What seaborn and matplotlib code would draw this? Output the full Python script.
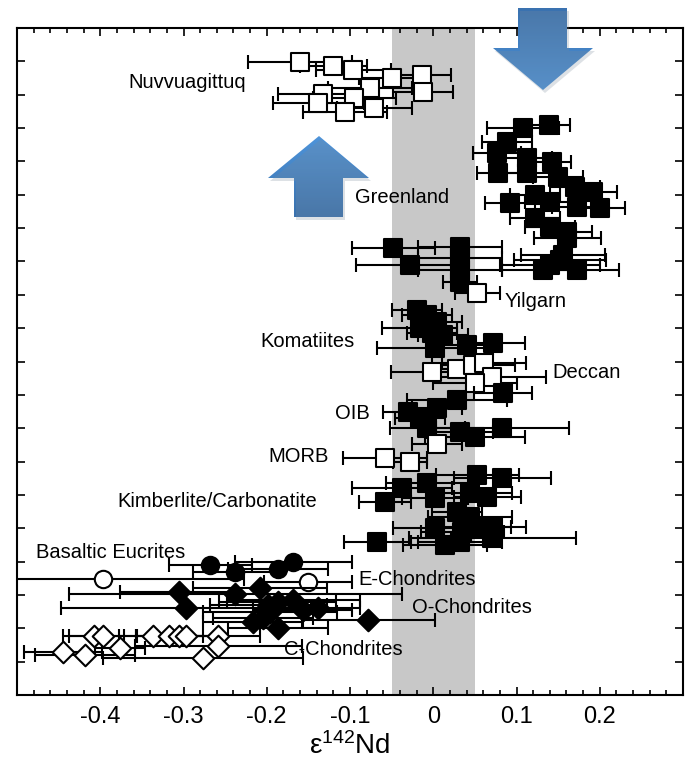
import numpy as np
import pandas as pd
import matplotlib
matplotlib.use("Agg")
import matplotlib.pyplot as plt
import seaborn as sns
from matplotlib.patches import Polygon
from matplotlib.colors import LinearSegmentedColormap
from matplotlib.ticker import FixedLocator, MultipleLocator, FuncFormatter

# ---- data (x = eps142Nd, y = arbitrary row position) ----
nuv_x = [-0.160, -0.120, -0.096, -0.076, -0.049, -0.014, -0.012, -0.132, -0.138, -0.095, -0.071, -0.106]
nuv_y = [18.98, 18.86, 18.74, 18.20, 18.50, 18.59, 18.08, 18.02, 17.75, 17.90, 17.60, 17.48]
nuv_err = [0.062, 0.040, 0.045, 0.050, 0.040, 0.035, 0.036, 0.054, 0.055, 0.050, 0.045, 0.050]

green_x = [0.108, 0.139, 0.089, 0.077, 0.113, 0.143, 0.078, 0.113, 0.150, 0.170,
           0.192, 0.092, 0.122, 0.140, 0.173, 0.200, 0.122, 0.140, 0.161, 0.161,
           0.156, 0.152, 0.140, 0.132, 0.173]
green_y = [17.00, 17.09, 16.58, 16.25, 16.10, 15.98, 15.65, 15.65, 15.53, 15.23,
           15.08, 14.75, 14.99, 14.78, 14.63, 14.60, 14.30, 14.03, 13.88, 13.70,
           13.19, 13.04, 12.89, 12.74, 12.74]
green_err = [0.043, 0.025, 0.030, 0.029, 0.030, 0.022, 0.026, 0.030, 0.030, 0.030,
             0.029, 0.030, 0.030, 0.030, 0.030, 0.030, 0.030, 0.030, 0.030, 0.040,
             0.050, 0.055, 0.060, 0.050, 0.050]

yil_black_x = [-0.048, -0.028, 0.032, 0.032, 0.032, 0.032]
yil_black_y = [13.40, 12.89, 13.43, 13.10, 12.74, 12.38]
yil_black_err = [0.050, 0.065, 0.050, 0.050, 0.050, 0.020]
yil_open_x = [0.053]
yil_open_y = [12.05]
yil_open_err = [0.027]

kom_x = [-0.019, -0.007, 0.005, -0.016, -0.001, 0.012, 0.002, 0.041, 0.072]
kom_y = [11.54, 11.39, 11.18, 11.00, 10.85, 10.79, 10.40, 10.49, 10.55]
kom_err = [0.030, 0.030, 0.030, 0.045, 0.030, 0.030, 0.070, 0.040, 0.038]

dec_x = [-0.001, 0.028, 0.048, 0.061, 0.071, 0.050]
dec_y = [9.69, 9.78, 9.90, 9.96, 9.54, 9.36]
dec_err = [0.050, 0.030, 0.050, 0.050, 0.065, 0.050]

oib_x = [0.084, 0.029, -0.030, -0.016, 0.005, -0.007, 0.032, 0.050, 0.083]
oib_y = [9.06, 8.85, 8.49, 8.31, 8.61, 8.01, 7.89, 7.74, 8.01]
oib_err = [0.035, 0.060, 0.030, 0.030, 0.030, 0.045, 0.040, 0.060, 0.080]

morb_x = [0.004, -0.058, -0.028]
morb_y = [7.53, 7.11, 6.99]
morb_err = [0.030, 0.050, 0.020]

kim_x = [0.053, 0.083, -0.007, -0.037, -0.058, 0.002, 0.044, 0.065, 0.029,
         0.044, 0.002, 0.035, 0.072, 0.071, 0.014, -0.067, 0.032, 0.053]
kim_y = [6.60, 6.51, 6.36, 6.21, 5.79, 5.91, 6.06, 5.94, 5.49,
         5.34, 5.01, 4.89, 5.04, 4.71, 4.50, 4.59, 4.59, 5.04]
kim_err = [0.050, 0.058, 0.050, 0.060, 0.031, 0.040, 0.050, 0.040, 0.030,
           0.050, 0.050, 0.050, 0.040, 0.100, 0.050, 0.040, 0.050, 0.040]

euc_x = [-0.268, -0.238, -0.187, -0.168]
euc_y = [3.90, 3.69, 3.78, 3.99]
euc_err = [0.050, 0.050, 0.060, 0.070]

ech_x = [-0.397, -0.150]
ech_y = [3.48, 3.39]
ech_err = [0.170, 0.053]

och_x = [-0.306, -0.238, -0.208, -0.297, -0.187, -0.168, -0.157, -0.138,
         -0.196, -0.204, -0.217, -0.186, -0.198, -0.078]
och_y = [3.09, 3.03, 3.21, 2.61, 2.79, 2.85, 2.55, 2.61,
         2.49, 2.31, 2.19, 2.01, 2.70, 2.25]
och_err = [0.070, 0.200, 0.080, 0.150, 0.070, 0.080, 0.060, 0.050,
           0.080, 0.060, 0.060, 0.060, 0.070, 0.080]

cch_x = [-0.408, -0.397, -0.337, -0.317, -0.306, -0.297, -0.258, -0.258,
         -0.445, -0.418, -0.376, -0.277]
cch_y = [1.77, 1.77, 1.77, 1.77, 1.77, 1.77, 1.77, 1.47,
         1.29, 1.20, 1.41, 1.11]
cch_err = [0.037, 0.040, 0.040, 0.040, 0.050, 0.040, 0.050, 0.100,
           0.047, 0.060, 0.030, 0.120]

labels = ["Nuvvuagittuq", "Greenland", "Yilgarn", "Komatiites", "Deccan", "OIB",
          "MORB", "Kimberlite/Carbonatite", "Basaltic Eucrites", "E-Chondrites",
          "O-Chondrites", "C-Chondrites"]
label_x = [-0.366, -0.094, 0.086, -0.208, 0.143, -0.118,
           -0.198, -0.379, -0.477, -0.090, -0.025, -0.179]
label_y = [18.20, 14.75, 11.63, 10.43, 9.51, 8.28,
           6.99, 5.64, 4.11, 3.30, 2.46, 1.20]

x_ticks = [-0.4, -0.3, -0.2, -0.1, 0.0, 0.1, 0.2]

# ---- style ----
sns.set_style("ticks")
plt.rcParams["font.family"] = ["Liberation Sans", "DejaVu Sans"]
plt.rcParams["axes.unicode_minus"] = False
plt.rcParams["mathtext.fontset"] = "custom"
plt.rcParams["mathtext.rm"] = "Liberation Sans"
plt.rcParams["text.color"] = "black"
plt.rcParams["axes.labelcolor"] = "black"

fig = plt.figure(figsize=(6.85, 7.68), dpi=100)
ax = fig.add_axes([17 / 685, 73 / 768, 666 / 685, 667 / 768])

ax.axvspan(-0.05, 0.05, color="#c8c8c8", lw=0, zorder=0)

for name, tx, ty in zip(labels, label_x, label_y):
    ax.text(tx, ty, name, fontsize=14.5, color="black", va="baseline", ha="left", zorder=1)

groups = [
    (nuv_x, nuv_y, nuv_err, "s", "white", 12.5),
    (green_x, green_y, green_err, "s", "black", 13),
    (yil_black_x, yil_black_y, yil_black_err, "s", "black", 13),
    (yil_open_x, yil_open_y, yil_open_err, "s", "white", 12.5),
    (kom_x, kom_y, kom_err, "s", "black", 13),
    (dec_x, dec_y, dec_err, "s", "white", 12.5),
    (oib_x, oib_y, oib_err, "s", "black", 13),
    (morb_x, morb_y, morb_err, "s", "white", 12.5),
    (kim_x, kim_y, kim_err, "s", "black", 13),
    (euc_x, euc_y, euc_err, "o", "black", 12.5),
    (ech_x, ech_y, ech_err, "o", "white", 12.5),
    (och_x, och_y, och_err, "D", "black", 11),
    (cch_x, cch_y, cch_err, "D", "white", 11),
]

for i, (gx, gy, ge, mk, face, ms) in enumerate(groups):
    df = pd.DataFrame({"x": gx, "y": gy, "err": ge})
    ax.errorbar(df["x"], df["y"], xerr=df["err"], fmt="none", ecolor="black",
                elinewidth=1.5, capsize=5, capthick=1.5, zorder=2 + 2 * i)
    sns.scatterplot(data=df, x="x", y="y", marker=mk, s=ms ** 2, color=face,
                    edgecolor="black", linewidth=1.5, ax=ax, zorder=3 + 2 * i,
                    legend=False)

ax.set_xlim(-0.5, 0.3)
ax.set_ylim(0, 20)
ax.xaxis.set_major_locator(FixedLocator(x_ticks))
ax.xaxis.set_minor_locator(MultipleLocator(0.02))
ax.xaxis.set_major_formatter(FuncFormatter(lambda v, p: f"{v:g}"))
ax.yaxis.set_major_locator(MultipleLocator(1))
ax.yaxis.set_major_formatter(FuncFormatter(lambda v, p: ""))
ax.tick_params(axis="both", which="both", direction="in", top=True, right=True,
               width=1.2, colors="black")
ax.tick_params(axis="both", which="major", length=6)
ax.tick_params(axis="x", which="minor", length=3.5)
ax.tick_params(axis="x", which="major", labelsize=17, pad=8)
ax.set_xlabel(r"$\mathregular{\varepsilon^{142}}$Nd", fontsize=20, labelpad=3)
ax.set_ylabel("")
for sp in ax.spines.values():
    sp.set_linewidth(1.5)
    sp.set_color("black")

# ---- the two blue block arrows, in figure pixel space ----
oax = fig.add_axes([0, 0, 1, 1], zorder=10)
oax.set_facecolor("none")
down_arrow = [(518, 8), (567, 8), (567, 48), (593, 48), (543, 90), (493, 48), (518, 48)]
up_arrow = [(294, 217), (343, 217), (343, 178), (369, 178), (319, 136), (268, 178), (294, 178)]
arrows = [(down_arrow, "#3a72b0", "#4c92d8"), (up_arrow, "#4e94da", "#3a71ad")]
for pts, c_top, c_bot in arrows:
    shadow = Polygon([(px + 2, py + 3) for px, py in pts], closed=True,
                     facecolor="#7a8a9a", alpha=0.25, edgecolor="none")
    oax.add_patch(shadow)
    poly = Polygon(pts, closed=True, facecolor="none", edgecolor="none")
    oax.add_patch(poly)
    xs = [p[0] for p in pts]
    ys = [p[1] for p in pts]
    cmap = LinearSegmentedColormap.from_list("arrow", [c_top, c_bot])
    grad = np.linspace(0, 1, 64).reshape(-1, 1)
    img = oax.imshow(grad, cmap=cmap, aspect="auto",
                     extent=(min(xs), max(xs), max(ys), min(ys)))
    img.set_clip_path(poly)
oax.set_xlim(0, 685)
oax.set_ylim(768, 0)
oax.axis("off")

fig.savefig("out.png", dpi=100)
